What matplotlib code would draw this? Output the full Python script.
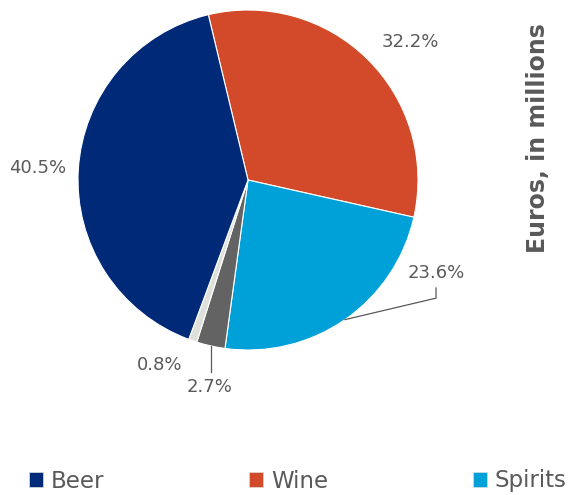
import numpy as np
import matplotlib
matplotlib.use("Agg")
import matplotlib.pyplot as plt
from matplotlib.patches import Patch

# Share of spend by drink category (percent), clockwise from the top
categories = ["Wine", "Spirits", "Cider", "Other", "Beer"]
shares = [32.2, 23.6, 2.7, 0.8, 40.5]
colors = ["#D24A2A", "#00A1D9", "#636363", "#E0E0DB", "#002A77"]

legend_names = ["Beer", "Wine", "Spirits"]
legend_colors = ["#002A77", "#D24A2A", "#00A1D9"]

text_grey = "#595959"

fig = plt.figure(figsize=(5.69, 4.95), dpi=100)
ax = fig.add_axes([78 / 569, 145 / 495, 340 / 569, 340 / 495])

wedges, _ = ax.pie(shares, colors=colors, startangle=103.5, counterclock=False,
                   radius=1.0, wedgeprops=dict(edgecolor="white", linewidth=0.8))
ax.set_xlim(-1, 1)
ax.set_ylim(-1, 1)
ax.set_aspect("equal")
ax.axis("off")

# Percentage labels; small slices get leader lines
label_pos = {
    "Wine": (0.955, 0.81),
    "Beer": (-1.235, 0.07),
    "Spirits": (1.106, -0.545),
    "Cider": (-0.229, -1.22),
    "Other": (-0.518, -1.088),
}
for w, name, val in zip(wedges, categories, shares):
    mid = np.deg2rad((w.theta1 + w.theta2) / 2)
    ex, ey = np.cos(mid), np.sin(mid)
    tx, ty = label_pos[name]
    ax.text(tx, ty, f"{val:.1f}%", ha="center", va="center",
            fontsize=13, color=text_grey, clip_on=False)
    if name == "Spirits":
        ax.plot([ex, tx, tx], [ey, -0.695, -0.635], color=text_grey,
                linewidth=0.9, clip_on=False)
    elif name == "Cider":
        ax.plot([ex, ex], [ey, -1.13], color=text_grey,
                linewidth=0.9, clip_on=False)

# Legend entries spread across the bottom
legend_x = [29 / 569, 249 / 569, 473 / 569]
for name, col, x in zip(legend_names, legend_colors, legend_x):
    fig.legend(handles=[Patch(facecolor=col, edgecolor="#DDDDDD", linewidth=0.5)],
               labels=[name], loc="center left", bbox_to_anchor=(x, 14 / 495),
               frameon=False, fontsize=16.5, labelcolor=text_grey,
               handlelength=0.6, handleheight=0.6, handletextpad=0.35,
               borderaxespad=0, borderpad=0)

fig.text(538 / 569, 357 / 495, "Euros, in millions", rotation=90,
         ha="center", va="center", fontsize=17, fontweight="bold", color=text_grey)

fig.savefig("out.png", dpi=100)
